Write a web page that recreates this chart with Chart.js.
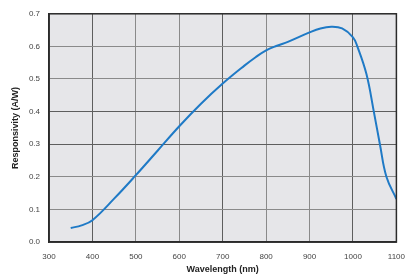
<!DOCTYPE html>
<html>
<head>
<meta charset="utf-8">
<script src="https://cdn.jsdelivr.net/npm/chart.js@4"></script>
<style>
  html, body { margin: 0; padding: 0; background: #fff; }
  #wrap { width: 415px; height: 279px; position: relative; }
</style>
</head>
<body>
<div id="wrap"><canvas id="chart"></canvas></div>
<script>
// wavelength (nm) and responsivity (A/W)
const wavelengths = [350, 375, 400, 450, 500, 550, 600, 650, 700, 750, 775, 800, 825, 850, 900, 925, 950, 975, 1000, 1010, 1031, 1048, 1062, 1077, 1100];
const responsivity = [0.043, 0.051, 0.067, 0.133, 0.205, 0.28, 0.355, 0.424, 0.486, 0.541, 0.566, 0.588, 0.602, 0.614, 0.643, 0.655, 0.66, 0.655, 0.628, 0.6, 0.515, 0.4, 0.3, 0.2, 0.132];
const xTicks = [300, 400, 500, 600, 700, 800, 900, 1000, 1100];
const yTicks = [0.0, 0.1, 0.2, 0.3, 0.4, 0.5, 0.6, 0.7];

const points = wavelengths.map((w, i) => ({ x: w, y: responsivity[i] }));

// grey plot background plus a dark frame round it
const frame = {
  id: "frame",
  beforeDraw: function (chart) {
    const a = chart.chartArea, ctx = chart.ctx;
    ctx.save();
    ctx.fillStyle = "#e6e6e9";
    ctx.fillRect(a.left, a.top, a.right - a.left, a.bottom - a.top);
    ctx.restore();
  },
  afterDraw: function (chart) {
    const a = chart.chartArea, ctx = chart.ctx;
    ctx.save();
    ctx.strokeStyle = "#2b2b2b";
    ctx.lineWidth = 1.5;
    ctx.strokeRect(a.left, a.top, a.right - a.left, a.bottom - a.top);
    ctx.restore();
  }
};

new Chart(document.getElementById("chart"), {
  type: "line",
  data: {
    datasets: [{
      data: points,
      borderColor: "#1f7ac6",
      borderWidth: 2,
      pointRadius: 0,
      tension: 0.4,
      fill: false
    }]
  },
  options: {
    responsive: true,
    maintainAspectRatio: false,
    animation: false,
    layout: { padding: { top: 8, right: 13, left: 0, bottom: 0 } },
    plugins: { legend: { display: false }, tooltip: { enabled: false } },
    scales: {
      x: {
        type: "linear",
        min: 300,
        max: 1100,
        afterBuildTicks: function (s) { s.ticks = xTicks.map(v => ({ value: v })); },
        afterFit: function (s) { s.height = 37; },
        grid: {
          drawTicks: false,
          color: (c) => [400, 700, 1000].includes(c.tick && c.tick.value) ? "#5e5e5e" : "#8a8a8a",
          lineWidth: 1
        },
        border: { color: "#2b2b2b", width: 1.5 },
        ticks: {
          padding: 10,
          color: "#444",
          font: { family: "Liberation Sans", size: 8 },
          maxRotation: 0,
          callback: (v) => String(v)
        },
        title: {
          display: true,
          text: "Wavelength (nm)",
          color: "#222",
          font: { family: "Liberation Sans", size: 9, weight: "bold" },
          padding: { top: 1, bottom: 4 }
        }
      },
      y: {
        min: 0,
        max: 0.7,
        afterBuildTicks: function (s) { s.ticks = yTicks.map(v => ({ value: v })); },
        afterFit: function (s) { s.width = 49; },
        grid: {
          drawTicks: false,
          color: (c) => [0.3, 0.4].includes(c.tick && c.tick.value) ? "#5e5e5e" : "#8a8a8a",
          lineWidth: 1
        },
        border: { color: "#2b2b2b", width: 1.5 },
        ticks: {
          padding: 9,
          color: "#444",
          font: { family: "Liberation Sans", size: 8 },
          callback: (v) => v.toFixed(1)
        },
        title: {
          display: true,
          text: "Responsivity (A/W)",
          color: "#222",
          font: { family: "Liberation Sans", size: 9, weight: "bold" },
          padding: { top: 10, bottom: 0 }
        }
      }
    }
  },
  plugins: [frame]
});
</script>
</body>
</html>
